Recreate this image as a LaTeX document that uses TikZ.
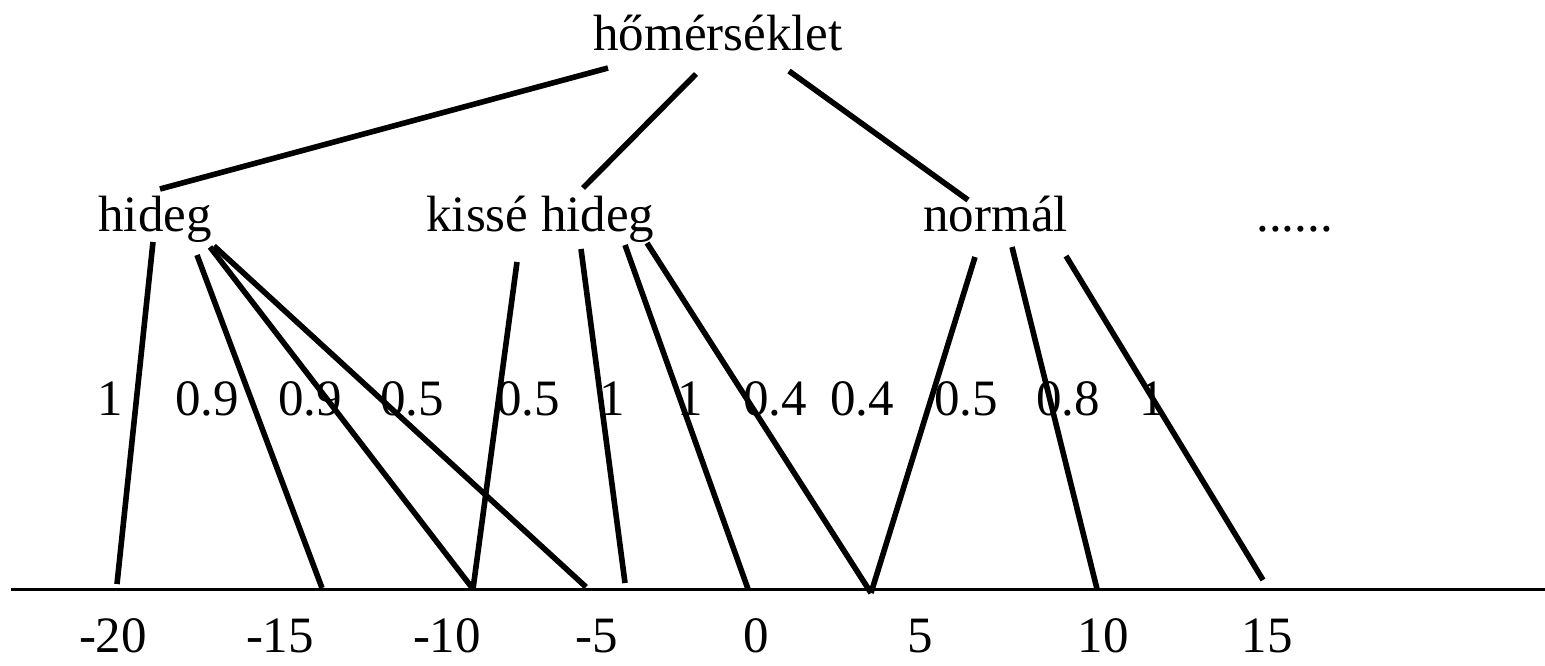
\documentclass[tikz,border=0pt]{standalone}
\usepackage{fontspec}
\setmainfont{Liberation Serif}
\begin{document}
\begin{tikzpicture}[x=0.5pt, y=-0.5pt, every node/.style={font=\fontsize{25.5}{30}\selectfont, inner sep=0pt}, lbl/.style={anchor=base west}, num/.style={anchor=base}, tick/.style={anchor=base, text depth=0pt}, edge/.style={line width=2.8pt}, axis/.style={line width=1.5pt}]
\useasboundingbox (0,0) rectangle (1545,665);
% fuzzy sets
\node[lbl] (hom) at (593,50) {hőmérséklet};
\node[lbl] (hideg) at (98,231) {hideg};
\node[lbl] (kisse) at (426,231) {kissé hideg};
\node[lbl] (normal) at (923,231) {normál};
\node[lbl] (dots) at (1256,231) {......};
% membership values
\node[num] (w1) at (110,415) {1};
\node[num] (w2) at (207,415) {0.9};
\node[num] (w3) at (310,415) {0.9};
\node[num] (w4) at (412,415) {0.5};
\node[num] (w5) at (528,415) {0.5};
\node[num] (w6) at (612,415) {1};
\node[num] (w7) at (690,415) {1};
\node[num] (w8) at (775,415) {0.4};
\node[num] (w9) at (862,415) {0.4};
\node[num] (w10) at (966,415) {0.5};
\node[num] (w11) at (1068,415) {0.8};
\node[num] (w12) at (1152,415) {1};
% axis and its labels
\coordinate (axL) at (11,589);
\coordinate (axR) at (1545,589);
\draw[axis] (axL) -- (axR);
\node[tick] (t1) at (113,652) {-20};
\node[tick] (t2) at (280,652) {-15};
\node[tick] (t3) at (447,652) {-10};
\node[tick] (t4) at (597,652) {-5};
\node[tick] (t5) at (756,652) {0};
\node[tick] (t6) at (920,652) {5};
\node[tick] (t7) at (1103,652) {10};
\node[tick] (t8) at (1267,652) {15};
% line ends under and over the names
\coordinate (homA) at (608,68);
\coordinate (homB) at (696,74);
\coordinate (homC) at (789,71);
\coordinate (hidA) at (160,189);
\coordinate (hid1) at (153,242);
\coordinate (hid2) at (197,255);
\coordinate (hid3) at (210,247);
\coordinate (hid4) at (214,246);
\coordinate (kisA) at (583,188);
\coordinate (kis1) at (517,262);
\coordinate (kis2) at (581,249);
\coordinate (kis3) at (625,245);
\coordinate (kis4) at (647,243);
\coordinate (norA) at (968,200);
\coordinate (nor1) at (975,257);
\coordinate (nor2) at (1012,247);
\coordinate (nor3) at (1066,256);
% line ends on the axis
\coordinate (ax1) at (117,584);
\coordinate (ax2) at (322,588);
\coordinate (ax3) at (473,589);
\coordinate (ax4) at (586,587);
\coordinate (ax5) at (625,583);
\coordinate (ax6) at (748,589);
\coordinate (ax7) at (871,593);
\coordinate (ax8) at (1097,589);
\coordinate (ax9) at (1263,580);
\draw[edge] (homA) -- (hidA);
\draw[edge] (homB) -- (kisA);
\draw[edge] (homC) -- (norA);
\draw[edge] (hid1) -- (ax1);
\draw[edge] (hid2) -- (ax2);
\draw[edge] (hid3) -- (ax3);
\draw[edge] (hid4) -- (ax4);
\draw[edge] (kis1) -- (ax3);
\draw[edge] (kis2) -- (ax5);
\draw[edge] (kis3) -- (ax6);
\draw[edge] (kis4) -- (ax7);
\draw[edge] (nor1) -- (ax7);
\draw[edge] (nor2) -- (ax8);
\draw[edge] (nor3) -- (ax9);
\end{tikzpicture}
\end{document}
